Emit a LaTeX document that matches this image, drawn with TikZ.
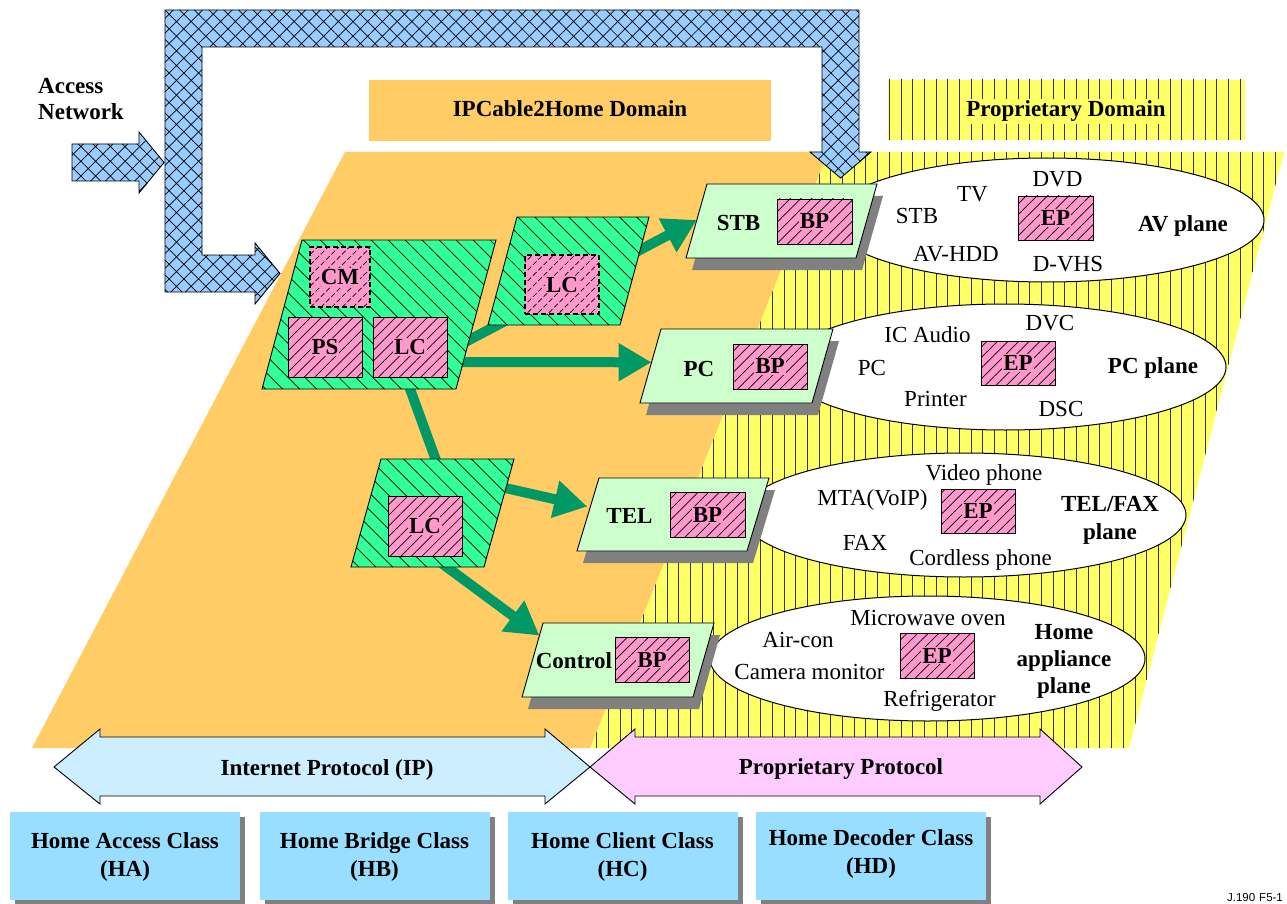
\documentclass[tikz,border=0pt]{standalone}
\usepackage{fontspec}
\setmainfont{Liberation Serif}
\newfontfamily\figsans{Liberation Sans}
\usetikzlibrary{patterns.meta,arrows.meta,calc,shapes.geometric}

\definecolor{pipeblue}{HTML}{99CCFF}
\definecolor{ipblue}{HTML}{CCEEFF}
\definecolor{classblue}{HTML}{99DDFF}
\definecolor{proppink}{HTML}{FFCCFF}
\definecolor{domorange}{HTML}{FFCC66}
\definecolor{domyellow}{HTML}{FFFF66}
\definecolor{lcgreen}{HTML}{33FF99}
\definecolor{flowgreen}{HTML}{009966}
\definecolor{devgreen}{HTML}{CCFFCC}
\definecolor{funcpink}{HTML}{FF99CC}
\definecolor{shadowgray}{HTML}{808080}

\newcommand\bigsize{\fontsize{23}{27}\selectfont}

% slanted plate: name, top-left x, top y, width, height, slant
\newcommand\slabat[6]{%
  \coordinate (#1-nw) at (#2,#3);
  \coordinate (#1-ne) at ({#2+#4},#3);
  \coordinate (#1-se) at ({#2+#4-#6},{#3+#5});
  \coordinate (#1-sw) at ({#2-#6},{#3+#5});}
\newcommand\slabdraw[2]{%
  \path[#2] (#1-nw) -- (#1-ne) -- (#1-se) -- (#1-sw) -- cycle;}
\newcommand\slabshadow[1]{%
  \fill[shadowgray] ($(#1-nw)+(6,12)$) -- ($(#1-ne)+(6,12)$)
    -- ($(#1-se)+(6,12)$) -- ($(#1-sw)+(6,12)$) -- cycle;}

\begin{document}
\begin{tikzpicture}[x=1pt,y=-1pt,line join=miter,
  txt/.style={font=\bigsize,anchor=base,inner sep=0pt},
  btxt/.style={font=\bigsize\bfseries,anchor=base,inner sep=0pt},
  pipe/.style={draw=black,line width=0.9pt,fill=pipeblue,
    postaction={pattern={Hatch[angle=45,distance=10.4pt,line width=0.7pt]},pattern color=black}},
  yellowzone/.style={fill=domyellow,
    postaction={pattern={Lines[angle=90,distance=11.7pt,line width=0.8pt]},pattern color=black!80}},
  lcplate/.style={draw=black,line width=0.9pt,fill=lcgreen,
    postaction={pattern={Lines[angle=-45,distance=12pt,line width=0.7pt]},pattern color=black}},
  devplate/.style={draw=black,line width=0.9pt,fill=devgreen},
  fnbox/.style={draw=black,line width=0.9pt,fill=funcpink,rectangle,inner sep=0pt,
    postaction={pattern={Lines[angle=45,distance=7.5pt,line width=0.7pt]},pattern color=black}},
  fnboxdash/.style={fnbox,line width=1.5pt,dash pattern=on 5pt off 3pt},
  fntext/.style={font=\bigsize\bfseries,fill=funcpink,inner sep=1pt},
  plane/.style={draw=black,line width=1pt,fill=white,ellipse,inner sep=0pt},
  flow/.style={draw=flowgreen,line width=10pt},
  flowarrow/.style={flow,-{Triangle[length=33pt,width=36pt]}},
  protoarrow/.style={draw=black,line width=0.9pt},
]
\useasboundingbox (0,0) rectangle (1287,904);
\fill[white] (0,0) rectangle (1287,904);

% domain banners
\fill[domorange] (369,80) rectangle (771,141);
\path[yellowzone] (888,80) rectangle (1245,140);
\node[btxt] (ipcdom) at (570,117) {IPCable2Home Domain};
\node[btxt,fill=domyellow,inner sep=2pt] (propdom) at (1066,117) {Proprietary Domain};

% domain planes
\path[yellowzone] (828,152) -- (1284,152) -- (1129,748) -- (590,748) -- cycle;
\fill[domorange] (345,152) -- (828,152) -- (590,748) -- (32,748) -- cycle;

% access network feed
\draw[pipe] (165,10) -- (859,10) -- (859,152) -- (871,152) -- (840.5,178)
  -- (810,152) -- (822,152) -- (822,47) -- (202,47) -- (202,255) -- (255,255)
  -- (255,243) -- (280,273.5) -- (255,304) -- (255,292) -- (165,292) -- cycle;
\draw[pipe] (72,144) -- (139,144) -- (139,132) -- (164,162.5) -- (139,193)
  -- (139,181) -- (72,181) -- cycle;
\node[btxt,anchor=base west] (acc1) at (38,94) {Access};
\node[btxt,anchor=base west] (acc2) at (38,120) {Network};

% device planes
\node[plane,minimum width=434pt,minimum height=124pt] (avplane) at (1047,220) {};
\node[plane,minimum width=442pt,minimum height=126pt] (pcplane) at (1005,367) {};
\node[plane,minimum width=444pt,minimum height=124pt] (telplane) at (964,515) {};
\node[plane,minimum width=435pt,minimum height=125pt] (homeplane) at (927.5,658.5) {};

% plate geometry
\slabat{stb}{707}{184}{170}{74}{21}
\slabat{pc}{661}{329}{172}{74}{21}
\slabat{tel}{599}{478}{170}{73}{22}
\slabat{ctl}{543}{623}{171}{74}{21}
\slabat{par1}{302}{240}{194}{149}{40}
\slabat{par2}{517}{217}{132}{108}{29}
\slabat{par3}{381}{459}{133}{108}{30}

% client devices
\slabshadow{stb}\slabdraw{stb}{devplate}
\slabshadow{pc}\slabdraw{pc}{devplate}
\slabshadow{tel}\slabdraw{tel}{devplate}
\slabshadow{ctl}\slabdraw{ctl}{devplate}

% flows from the bridge functions
\draw[flowarrow,shorten <=-14pt] ($(par1-ne)!0.671!(par1-se)$) -- ($(stb-nw)!0.486!(stb-sw)$);
\draw[flowarrow,shorten <=-14pt] ($(par1-ne)!0.819!(par1-se)$) -- ($(pc-nw)!0.45!(pc-sw)$);
\draw[flow,shorten <=-10pt,shorten >=-10pt] ($(par1-sw)!0.763!(par1-se)$) -- ($(par3-nw)!0.41!(par3-ne)$);
\draw[flowarrow,shorten <=-12pt,shorten >=3pt] ($(par3-ne)!0.27!(par3-se)$) -- ($(tel-nw)!0.4!(tel-sw)$);
\draw[flowarrow,shorten <=-12pt] ($(par3-sw)!0.72!(par3-se)$) -- ($(ctl-nw)!0.17!(ctl-sw)$);

% bridge plates
\slabdraw{par1}{lcplate}
\slabdraw{par2}{lcplate}
\slabdraw{par3}{lcplate}

% functional elements
\node[fnboxdash,minimum width=60pt,minimum height=60pt] (cm) at (340,277) {};
\node[fntext] at (cm) {CM};
\node[fnbox,minimum width=74pt,minimum height=60pt] (ps) at (325,347) {};
\node[fntext] at (ps) {PS};
\node[fnbox,minimum width=74pt,minimum height=60pt] (lc1) at (410,347) {};
\node[fntext] at (lc1) {LC};
\node[fnboxdash,minimum width=74pt,minimum height=59pt] (lc2) at (562,284.5) {};
\node[fntext] at (lc2) {LC};
\node[fnbox,minimum width=74pt,minimum height=60pt] (lc3) at (425,526) {};
\node[fntext] at (lc3) {LC};

\node[fnbox,minimum width=75pt,minimum height=45pt] (stbbp) at (814.5,221.5) {};
\node[fntext] at (stbbp) {BP};
\node[fnbox,minimum width=74pt,minimum height=45pt] (pcbp) at (770,366.5) {};
\node[fntext] at (pcbp) {BP};
\node[fnbox,minimum width=75pt,minimum height=45pt] (telbp) at (707.5,514.5) {};
\node[fntext] at (telbp) {BP};
\node[fnbox,minimum width=74pt,minimum height=45pt] (ctlbp) at (652,659.5) {};
\node[fntext] at (ctlbp) {BP};

\node[fnbox,minimum width=75pt,minimum height=44pt] (avep) at (1055.5,218) {};
\node[fntext] at (avep) {EP};
\node[fnbox,minimum width=74pt,minimum height=44pt] (pcep) at (1018,363) {};
\node[fntext] at (pcep) {EP};
\node[fnbox,minimum width=74pt,minimum height=44pt] (telep) at (978,511) {};
\node[fntext] at (telep) {EP};
\node[fnbox,minimum width=74pt,minimum height=45pt] (homeep) at (937,655.5) {};
\node[fntext] at (homeep) {EP};

% device names
\node[btxt] (stbname) at (738.5,230) {STB};
\node[btxt] (pcname) at (699,376) {PC};
\node[btxt] (telname) at (629.5,523) {TEL};
\node[btxt] (ctlname) at (574,668) {Control};

% AV plane
\node[txt] at (917,223) {STB};
\node[txt] at (972.5,201) {TV};
\node[txt] at (1057.5,186) {DVD};
\node[txt] at (956,261) {AV-HDD};
\node[txt] at (1068,271) {D-VHS};
\node[btxt] at (1183,231) {AV plane};
% PC plane
\node[txt] at (927.5,342) {IC Audio};
\node[txt] at (1050,330) {DVC};
\node[txt] at (872,375) {PC};
\node[txt] at (935.5,406) {Printer};
\node[txt] at (1061,416) {DSC};
\node[btxt] at (1153,373) {PC plane};
% TEL/FAX plane
\node[txt] at (984,480) {Video phone};
\node[txt] at (872.5,505) {MTA(VoIP)};
\node[txt] at (865,550) {FAX};
\node[txt] at (980.5,565) {Cordless phone};
\node[btxt] at (1110,511) {TEL/FAX};
\node[btxt] at (1110,539) {plane};
% home appliance plane
\node[txt] at (928,625) {Microwave oven};
\node[txt] at (798,647) {Air-con};
\node[txt] at (809.5,679) {Camera monitor};
\node[txt] at (939.5,706) {Refrigerator};
\node[btxt] at (1064,639) {Home};
\node[btxt] at (1064,666) {appliance};
\node[btxt] at (1064,693) {plane};

% protocol spans
\draw[protoarrow,fill=ipblue] (54,767) -- (100,729) -- (100,737) -- (545,737) -- (545,729)
  -- (590,767) -- (545,804) -- (545,796) -- (100,796) -- (100,804) -- cycle;
\draw[protoarrow,fill=proppink] (590,767) -- (635,729) -- (635,737) -- (1040,737) -- (1040,729)
  -- (1082,767) -- (1040,804) -- (1040,796) -- (635,796) -- (635,804) -- cycle;
\node[btxt] (ipproto) at (327,775) {Internet Protocol (IP)};
\node[btxt] (prproto) at (841,774) {Proprietary Protocol};

% device classes
\foreach \cx/\nm in {125/ha,374.5/hb,622.5/hc,871/hd}{
  \fill[shadowgray] (\cx-110,817) rectangle (\cx+120,905);
  \fill[classblue] (\cx-115,812) rectangle (\cx+115,900);
  \coordinate (\nm) at (\cx,856);
}
\node[btxt] at (125,848) {Home Access Class};
\node[btxt] at (125,876) {(HA)};
\node[btxt] at (374.5,848) {Home Bridge Class};
\node[btxt] at (374.5,876) {(HB)};
\node[btxt] at (622.5,848) {Home Client Class};
\node[btxt] at (622.5,876) {(HC)};
\node[btxt] at (871,845) {Home Decoder Class};
\node[btxt] at (871,873) {(HD)};

\node[font=\figsans\fontsize{11.5}{13}\selectfont,anchor=base] (figid) at (1255,901) {J.190\hspace{4pt}F5-1};
\end{tikzpicture}
\end{document}
